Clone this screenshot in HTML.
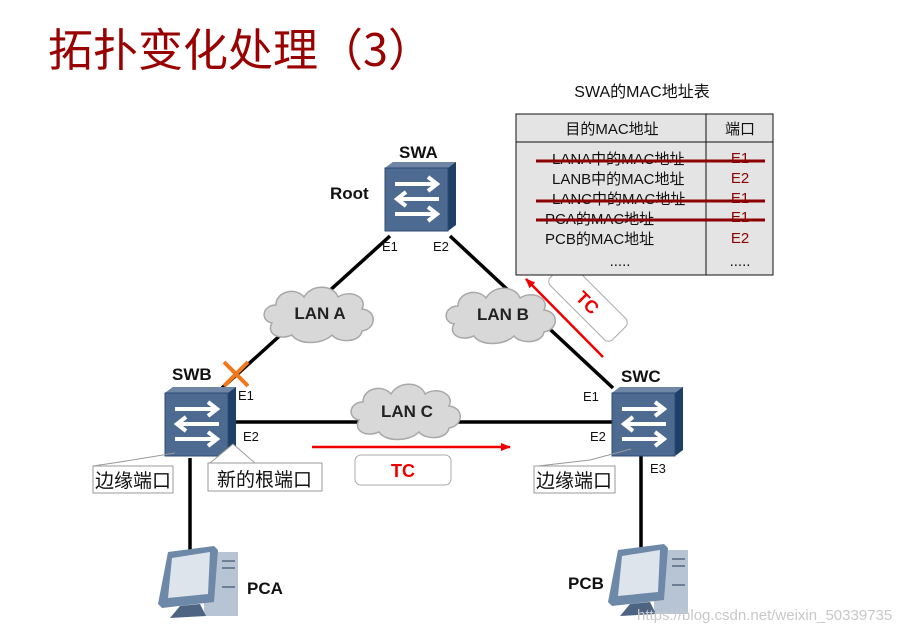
<!DOCTYPE html>
<html><head><meta charset="utf-8"><style>
body{margin:0;background:#fff;width:919px;height:635px;overflow:hidden}
svg{display:block}
</style></head><body>
<svg width="919" height="635" viewBox="0 0 919 635" xmlns="http://www.w3.org/2000/svg" font-family="Liberation Sans, Noto Sans CJK SC, sans-serif">
<defs>
<g id="sw">
 <polygon points="0,3 8,-3 71,-3 71,60 63,66 0,66" fill="#1e3f66"/>
 <polygon points="0,3 8,-3 71,-3 63,3" fill="#6f86a6"/>
 <rect x="0" y="3" width="63" height="63" fill="#4d6a90" stroke="#2c4b73"/>
 <g stroke="#fff" stroke-width="4" fill="none">
  <line x1="10" y1="19" x2="50" y2="19"/><polyline points="43,12 52,19 43,26"/>
  <line x1="14" y1="34" x2="54" y2="34"/><polyline points="21,27 12,34 21,41"/>
  <line x1="10" y1="49" x2="50" y2="49"/><polyline points="43,42 52,49 43,56"/>
 </g>
</g>
<g id="pc">
 <polygon points="46,6 80,6 80,70 46,70" fill="#b7c4d4"/>
 <rect x="64" y="14" width="13" height="2" fill="#6d7f95"/><rect x="64" y="21" width="13" height="2" fill="#6d7f95"/><rect x="64" y="40" width="13" height="2" fill="#6d7f95"/>
 <polygon points="10,6 56,0 60,4 56,56 4,62 0,58" fill="#6e88a8"/>
 <polygon points="14,12 52,6 50,48 10,52" fill="#dde4ec"/>
 <polygon points="22,60 42,58 48,70 12,72" fill="#4d6583"/>
</g>
<g id="cloud">
 <path d="M10,40 C-2,38 0,22 14,22 C14,8 34,4 42,14 C50,0 72,2 76,14 C88,6 106,14 100,26 C116,28 114,46 100,48 C98,60 76,60 70,52 C60,62 36,62 30,52 C16,58 4,50 10,40 Z" fill="#d8d8d8" stroke="#a8a8a8" stroke-width="1.5"/>
</g>
<marker id="ar" markerWidth="10" markerHeight="8" refX="9" refY="4" orient="auto" markerUnits="userSpaceOnUse"><path d="M0,0 L10,4 L0,8 Z" fill="#e00"/></marker>
</defs>

<text x="48" y="66" font-size="45" fill="#990000" font-family="Noto Sans CJK SC, sans-serif">拓扑变化处理（3）</text>

<g stroke="#000" stroke-width="3.5">
 <line x1="390" y1="236" x2="222" y2="388"/>
 <line x1="450" y1="236" x2="613" y2="388"/>
 <line x1="233" y1="422" x2="612" y2="422"/>
 <line x1="190" y1="458" x2="190" y2="552"/>
 <line x1="641" y1="456" x2="641" y2="552"/>
</g>

<use href="#cloud" x="262" y="283"/>
<use href="#cloud" x="444" y="284"/>
<use href="#cloud" x="349" y="380"/>
<g font-weight="bold" font-size="17" fill="#222" text-anchor="middle">
 <text x="320" y="319">LAN A</text>
 <text x="503" y="320">LAN B</text>
 <text x="407" y="417">LAN C</text>
</g>

<use href="#sw" x="385" y="165"/>
<use href="#sw" x="165" y="390"/>
<use href="#sw" x="612" y="390"/>

<g font-weight="bold" font-size="17" fill="#111">
 <text x="399" y="158">SWA</text>
 <text x="330" y="199">Root</text>
 <text x="172" y="380">SWB</text>
 <text x="621" y="382">SWC</text>
 <text x="247" y="594">PCA</text>
 <text x="568" y="589">PCB</text>
</g>
<g font-size="13" fill="#111">
 <text x="382" y="251">E1</text><text x="433" y="251">E2</text>
 <text x="238" y="400">E1</text><text x="243" y="441">E2</text>
 <text x="583" y="401">E1</text><text x="590" y="441">E2</text>
 <text x="650" y="473">E3</text>
</g>

<g stroke="#f07818" stroke-width="4"><line x1="224" y1="362" x2="248" y2="386"/><line x1="248" y1="362" x2="224" y2="386"/></g>

<g stroke="#999" stroke-width="1" fill="#fff">
 <polyline points="93,466 120,462 175,453" fill="none"/>
 <rect x="93" y="466" width="80" height="27"/>
 <polyline points="210,463 233,444 255,463"/>
 <rect x="208" y="463" width="114" height="28"/>
 <polyline points="538,466 590,460 631,449" fill="none"/>
 <rect x="534" y="466" width="81" height="27"/>
</g>
<g font-size="19" fill="#111" font-family="Noto Sans CJK SC, sans-serif">
 <text x="95" y="487">边缘端口</text>
 <text x="217" y="486">新的根端口</text>
 <text x="536" y="487">边缘端口</text>
</g>

<use href="#pc" x="158" y="546"/>
<use href="#pc" x="608" y="544"/>

<line x1="312" y1="447" x2="510" y2="447" stroke="#e00" stroke-width="2.5" marker-end="url(#ar)"/>
<rect x="355" y="455" width="96" height="30" rx="6" fill="#fff" stroke="#aaa"/>
<text x="403" y="477" font-weight="bold" font-size="18" fill="#e00" text-anchor="middle">TC</text>
<g transform="translate(588,302) rotate(45)">
 <rect x="-44" y="-15" width="88" height="30" rx="6" fill="#fff" stroke="#aaa"/>
 <text x="0" y="7" font-weight="bold" font-size="18" fill="#e00" text-anchor="middle">TC</text>
</g>
<line x1="603" y1="357" x2="526" y2="279" stroke="#e00" stroke-width="2.5" marker-end="url(#ar)"/>

<text x="642" y="97" font-size="16" fill="#111" text-anchor="middle">SWA的MAC地址表</text>
<rect x="516" y="114" width="257" height="161" fill="#e4e4e4" stroke="#111"/>
<line x1="516" y1="142" x2="773" y2="142" stroke="#111"/>
<line x1="706" y1="114" x2="706" y2="275" stroke="#111"/>
<g font-size="15" fill="#111">
 <text x="612" y="134" text-anchor="middle">目的MAC地址</text>
 <text x="740" y="134" text-anchor="middle">端口</text>
 <text x="552" y="164">LANA中的MAC地址</text>
 <text x="552" y="184">LANB中的MAC地址</text>
 <text x="552" y="204">LANC中的MAC地址</text>
 <text x="545" y="224">PCA的MAC地址</text>
 <text x="545" y="244">PCB的MAC地址</text>
 <text x="620" y="266" text-anchor="middle">.....</text>
 <text x="740" y="266" text-anchor="middle">.....</text>
</g>
<g font-size="15" fill="#8b0000" text-anchor="middle">
 <text x="740" y="163">E1</text><text x="740" y="183">E2</text>
 <text x="740" y="203">E1</text><text x="740" y="222">E1</text><text x="740" y="243">E2</text>
</g>
<g stroke="#8b0000" stroke-width="3">
 <line x1="536" y1="161" x2="765" y2="161"/>
 <line x1="536" y1="201" x2="765" y2="201"/>
 <line x1="536" y1="220" x2="765" y2="220"/>
</g>

<text x="637" y="620" font-size="15" fill="#c8c8c8">https://blog.csdn.net/weixin_50339735</text>
</svg>
</body></html>
